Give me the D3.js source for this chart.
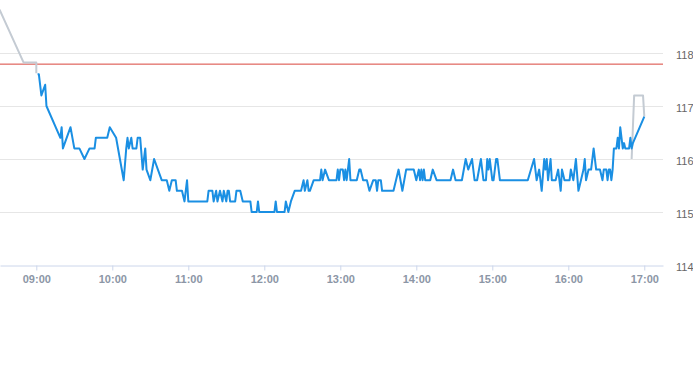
<!DOCTYPE html>
<html>
<head>
<meta charset="utf-8">
<script src="https://cdn.jsdelivr.net/npm/d3@7"></script>
<style>
  body { margin: 0; background: #fff; }
  svg { display: block; font-family: "Liberation Sans", Arial, sans-serif; }
</style>
</head>
<body>
<svg width="693" height="365"></svg>
<script>
// regular session (blue)
var sessionPrices = [
  ["09:01",117.6],["09:02",117.6],["09:04",117.2],["09:07",117.4],["09:08",117.0],
  ["09:19",116.4],["09:20",116.6],["09:21",116.2],["09:27",116.6],["09:30",116.2],
  ["09:34",116.2],["09:38",116.0],["09:42",116.2],["09:46",116.2],["09:47",116.4],
  ["09:56",116.4],["09:58",116.6],["10:03",116.4],["10:06",116.0],["10:09",115.6],
  ["10:11",116.2],["10:12",116.4],["10:13",116.2],["10:15",116.4],["10:16",116.2],
  ["10:19",116.2],["10:20",116.4],["10:22",116.4],["10:24",115.8],["10:26",116.2],
  ["10:27",115.8],["10:30",115.6],["10:33",116.0],["10:36",115.8],["10:39",115.6],
  ["10:43",115.6],["10:45",115.4],["10:47",115.6],["10:50",115.6],["10:51",115.4],
  ["10:55",115.4],["10:57",115.2],["10:59",115.6],["11:00",115.2],["11:15",115.2],
  ["11:16",115.4],["11:19",115.4],["11:20",115.2],["11:22",115.4],["11:23",115.2],
  ["11:25",115.4],["11:27",115.2],["11:28",115.4],["11:30",115.2],["11:31",115.4],
  ["11:32",115.4],["11:33",115.2],["11:37",115.2],["11:38",115.4],["11:41",115.4],
  ["11:43",115.2],["11:49",115.2],["11:50",115.0],["11:54",115.0],["11:55",115.2],
  ["11:56",115.0],["12:08",115.0],["12:09",115.2],["12:10",115.0],["12:16",115.0],
  ["12:17",115.2],["12:19",115.0],["12:21",115.2],["12:24",115.4],["12:29",115.4],
  ["12:31",115.6],["12:32",115.4],["12:34",115.6],["12:35",115.4],["12:36",115.4],
  ["12:39",115.6],["12:44",115.6],["12:45",115.8],["12:46",115.6],["12:48",115.8],
  ["12:51",115.6],["12:57",115.6],["12:58",115.8],["12:59",115.6],["13:00",115.8],
  ["13:02",115.8],["13:03",115.6],["13:04",115.8],["13:05",115.6],["13:07",116.0],
  ["13:08",115.6],["13:13",115.6],["13:15",115.8],["13:16",115.8],["13:18",115.6],
  ["13:21",115.6],["13:23",115.4],["13:26",115.6],["13:28",115.6],["13:29",115.4],
  ["13:30",115.6],["13:32",115.6],["13:33",115.4],["13:42",115.4],["13:46",115.8],
  ["13:49",115.4],["13:52",115.8],["13:58",115.8],["14:00",115.6],["14:02",115.8],
  ["14:03",115.6],["14:04",115.8],["14:05",115.6],["14:06",115.8],["14:07",115.6],
  ["14:11",115.6],["14:13",115.8],["14:16",115.6],["14:27",115.6],["14:29",115.8],
  ["14:31",115.6],["14:36",115.6],["14:39",116.0],["14:41",115.8],["14:44",116.0],
  ["14:46",115.6],["14:48",115.6],["14:51",116.0],["14:53",115.6],["14:55",115.6],
  ["14:56",116.0],["14:57",115.8],["14:58",116.0],["15:00",115.6],["15:01",115.6],
  ["15:03",116.0],["15:04",116.0],["15:06",115.6],["15:28",115.6],["15:33",116.0],
  ["15:35",115.6],["15:37",115.8],["15:39",115.4],["15:41",116.0],["15:42",115.8],
  ["15:43",116.0],["15:44",115.6],["15:46",116.0],["15:47",115.6],["15:50",115.6],
  ["15:52",115.8],["15:54",115.4],["15:55",115.8],["15:57",115.6],["16:01",115.6],
  ["16:02",115.8],["16:04",115.6],["16:06",116.0],["16:08",115.4],["16:10",115.6],
  ["16:12",115.8],["16:13",116.0],["16:14",115.6],["16:16",115.8],["16:18",115.8],
  ["16:20",116.2],["16:22",115.8],["16:25",115.8],["16:27",115.6],["16:28",115.8],
  ["16:30",115.8],["16:31",115.6],["16:32",115.8],["16:33",115.8],["16:34",115.6],
  ["16:35",115.8],["16:36",116.2],["16:38",116.2],["16:39",116.4],["16:40",116.2],
  ["16:41",116.6],["16:43",116.2],["16:44",116.3],["16:45",116.2],["16:48",116.2],
  ["16:49",116.4],["16:50",116.2],["16:51",116.3],["17:00",116.8]
];

// extended hours (grey)
var preMarket = [["08:31",118.82],["08:50",117.82],["09:00",117.82],["09:00",117.62]];
var afterMarket = [["16:50",116.0],["16:52",117.2],["16:59",117.2],["17:00",116.8]];

var prevClose = 117.79;
var yTicks = [114, 115, 116, 117, 118];
var xTicks = ["09:00","10:00","11:00","12:00","13:00","14:00","15:00","16:00","17:00"];
var xStart = "08:31:20", xEnd = "17:14:46";

var svg = d3.select('svg');
var plotW = 663, plotH = 265;

var parseT = function(s) {
    return d3.timeParse("%H:%M:%S")(s) || d3.timeParse("%H:%M")(s);
};

var x = d3.scaleTime()
    .domain([parseT(xStart), parseT(xEnd)])
    .range([0, plotW]);

var y = d3.scaleLinear()
    .domain([114, 119])
    .range([plotH, 0]);

svg.append('defs').append('clipPath').attr('id', 'plot')
    .append('rect').attr('width', plotW).attr('height', plotH);

// grid lines
svg.append('g').selectAll('line')
    .data(yTicks.filter(function(d) { return d > 114; }))
    .enter().append('line')
    .attr('x1', 0).attr('x2', plotW)
    .attr('y1', function(d) { return Math.round(y(d)) + 0.5; })
    .attr('y2', function(d) { return Math.round(y(d)) + 0.5; })
    .attr('stroke', '#e6e6e6');

// right axis labels
svg.append('g').selectAll('text')
    .data(yTicks)
    .enter().append('text')
    .attr('x', 676)
    .attr('y', function(d) { return y(d) + 6; })
    .attr('font-size', '11px')
    .attr('fill', '#666666')
    .text(function(d) { return d; });

// x axis
var xAxis = d3.axisBottom(x)
    .tickValues(xTicks.map(parseT))
    .tickSize(5)
    .tickSizeOuter(0)
    .tickFormat(d3.timeFormat("%H:%M"));

var gx = svg.append('g')
    .attr('transform', 'translate(0,' + (plotH + 0.5) + ')')
    .call(xAxis);
gx.select('.domain').attr('stroke', '#ccd6eb');
gx.selectAll('.tick line').attr('stroke', '#ccd6eb');
gx.selectAll('.tick text')
    .attr('y', 10)
    .attr('font-family', '"Liberation Sans", Arial, sans-serif')
    .attr('font-size', '11px')
    .attr('font-weight', 'bold')
    .attr('fill', '#8c96a6');

// previous close
svg.append('line')
    .attr('x1', 0).attr('x2', plotW)
    .attr('y1', y(prevClose)).attr('y2', y(prevClose))
    .attr('stroke', '#d9453b')
    .attr('stroke-width', 1);

var line = d3.line()
    .x(function(d) { return x(parseT(d[0])); })
    .y(function(d) { return y(d[1]); });

var lines = svg.append('g').attr('clip-path', 'url(#plot)');

[preMarket, afterMarket].forEach(function(s) {
    lines.append('path')
        .datum(s)
        .attr('d', line)
        .attr('fill', 'none')
        .attr('stroke', '#c4cbd3')
        .attr('stroke-width', 2)
        .attr('stroke-linejoin', 'round');
});

lines.append('path')
    .datum(sessionPrices)
    .attr('d', line)
    .attr('fill', 'none')
    .attr('stroke', '#1a8fe3')
    .attr('stroke-width', 2)
    .attr('stroke-linejoin', 'round');
</script>
</body>
</html>
